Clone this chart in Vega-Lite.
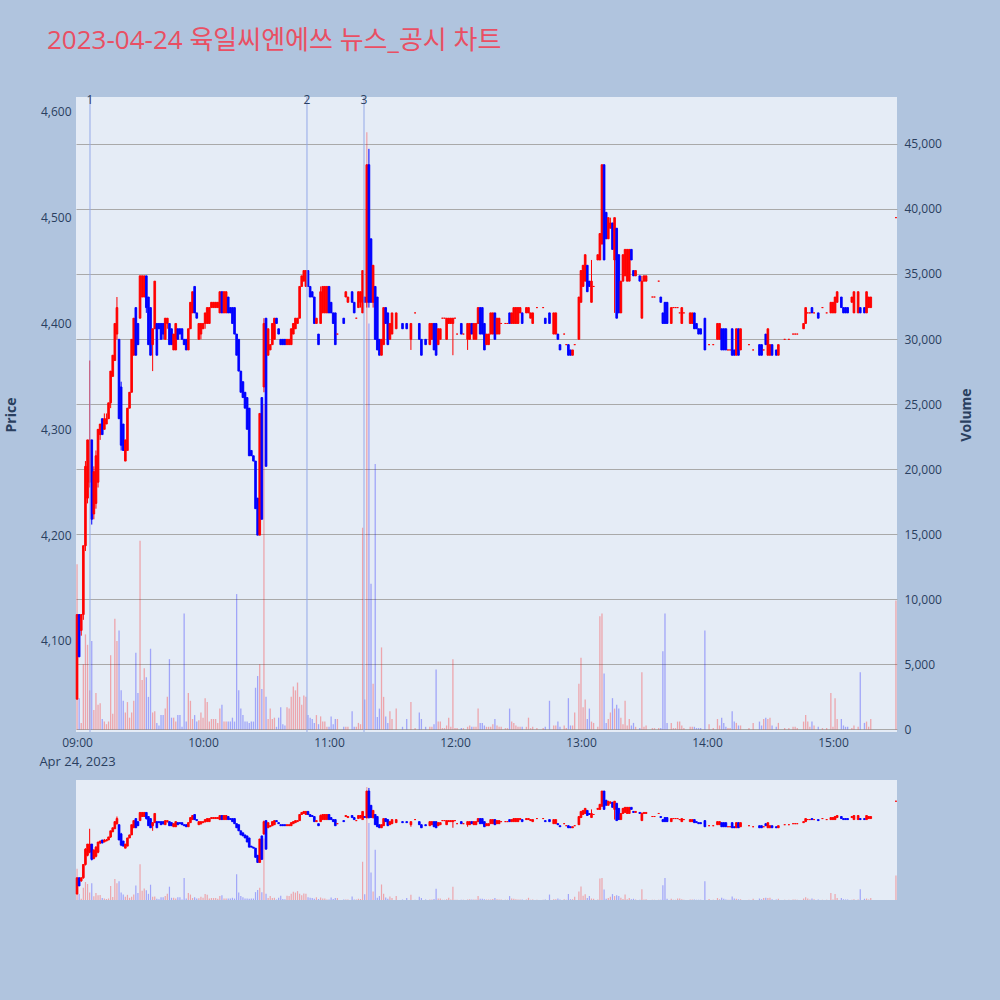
{
  "$schema": "https://vega.github.io/schema/vega-lite/v6.json",
  "background": "#b0c4de",
  "padding": {"left": 4, "top": 28, "right": 26, "bottom": 100},
  "title": {
    "text": "2023-04-24 육일씨엔에쓰 뉴스_공시 차트",
    "anchor": "start",
    "frame": "group",
    "dx": -29,
    "offset": 40,
    "fontSize": 26,
    "fontWeight": "normal",
    "font": "'Open Sans', 'Noto Sans CJK KR'",
    "color": "#e94f63"
  },
  "data": {
    "format": {"parse": {"t": "date:'%H:%M'"}},
    "values": [
      {"t":"09:00","o":4045,"h":4125,"l":4045,"c":4125,"v":12700},
      {"t":"09:01","o":4125,"h":4125,"l":4085,"c":4085,"v":2400},
      {"t":"09:02","o":4110,"h":4125,"l":4105,"c":4125,"v":500},
      {"t":"09:03","o":4125,"h":4190,"l":4120,"c":4190,"v":5000},
      {"t":"09:04","o":4190,"h":4270,"l":4185,"c":4265,"v":7300},
      {"t":"09:05","o":4235,"h":4290,"l":4230,"c":4290,"v":6500},
      {"t":"09:06","o":4250,"h":4365,"l":4245,"c":4290,"v":3000},
      {"t":"09:07","o":4290,"h":4290,"l":4210,"c":4215,"v":6800},
      {"t":"09:08","o":4220,"h":4265,"l":4215,"c":4260,"v":1500},
      {"t":"09:09","o":4230,"h":4280,"l":4225,"c":4275,"v":2800},
      {"t":"09:10","o":4250,"h":4300,"l":4245,"c":4300,"v":1900},
      {"t":"09:11","o":4295,"h":4305,"l":4290,"c":4305,"v":2000},
      {"t":"09:12","o":4310,"h":4310,"l":4295,"c":4295,"v":800},
      {"t":"09:13","o":4300,"h":4315,"l":4300,"c":4310,"v":600},
      {"t":"09:14","o":4305,"h":4315,"l":4305,"c":4310,"v":400},
      {"t":"09:15","o":4310,"h":4325,"l":4310,"c":4325,"v":600},
      {"t":"09:16","o":4325,"h":4355,"l":4320,"c":4355,"v":5700},
      {"t":"09:17","o":4350,"h":4370,"l":4350,"c":4370,"v":1200},
      {"t":"09:18","o":4365,"h":4400,"l":4365,"c":4400,"v":8500},
      {"t":"09:19","o":4390,"h":4425,"l":4385,"c":4415,"v":6800},
      {"t":"09:20","o":4385,"h":4385,"l":4310,"c":4310,"v":7600},
      {"t":"09:21","o":4340,"h":4345,"l":4280,"c":4285,"v":3000},
      {"t":"09:22","o":4305,"h":4305,"l":4280,"c":4280,"v":2200},
      {"t":"09:23","o":4270,"h":4290,"l":4270,"c":4290,"v":1300},
      {"t":"09:24","o":4280,"h":4320,"l":4280,"c":4320,"v":2100},
      {"t":"09:25","o":4320,"h":4335,"l":4320,"c":4335,"v":900},
      {"t":"09:26","o":4335,"h":4385,"l":4335,"c":4385,"v":1300},
      {"t":"09:27","o":4370,"h":4405,"l":4370,"c":4405,"v":2200},
      {"t":"09:28","o":4415,"h":4415,"l":4370,"c":4370,"v":5900},
      {"t":"09:29","o":4400,"h":4400,"l":4380,"c":4380,"v":2800},
      {"t":"09:30","o":4405,"h":4445,"l":4405,"c":4445,"v":14500},
      {"t":"09:31","o":4425,"h":4445,"l":4425,"c":4445,"v":3800},
      {"t":"09:32","o":4425,"h":4445,"l":4425,"c":4445,"v":4700},
      {"t":"09:33","o":4445,"h":4445,"l":4410,"c":4415,"v":4000},
      {"t":"09:34","o":4425,"h":4425,"l":4380,"c":4380,"v":2500},
      {"t":"09:35","o":4415,"h":4415,"l":4370,"c":4370,"v":6200},
      {"t":"09:36","o":4380,"h":4395,"l":4355,"c":4395,"v":1300},
      {"t":"09:37","o":4395,"h":4440,"l":4395,"c":4440,"v":1400},
      {"t":"09:38","o":4400,"h":4400,"l":4370,"c":4370,"v":500},
      {"t":"09:39","o":4400,"h":4400,"l":4395,"c":4395,"v":300},
      {"t":"09:40","o":4400,"h":4400,"l":4385,"c":4385,"v":1100},
      {"t":"09:41","o":4400,"h":4400,"l":4385,"c":4390,"v":1100},
      {"t":"09:42","o":4385,"h":4405,"l":4385,"c":4405,"v":1600},
      {"t":"09:43","o":4400,"h":4405,"l":4395,"c":4405,"v":2500},
      {"t":"09:44","o":4400,"h":4400,"l":4380,"c":4380,"v":5400},
      {"t":"09:45","o":4395,"h":4395,"l":4380,"c":4380,"v":900},
      {"t":"09:46","o":4375,"h":4390,"l":4375,"c":4390,"v":900},
      {"t":"09:47","o":4375,"h":4400,"l":4375,"c":4400,"v":600},
      {"t":"09:48","o":4395,"h":4395,"l":4385,"c":4385,"v":1100},
      {"t":"09:49","o":4395,"h":4395,"l":4390,"c":4390,"v":1100},
      {"t":"09:50","o":4395,"h":4395,"l":4385,"c":4385,"v":200},
      {"t":"09:51","o":4385,"h":4385,"l":4380,"c":4380,"v":8900},
      {"t":"09:52","o":4385,"h":4385,"l":4375,"c":4375,"v":600},
      {"t":"09:53","o":4375,"h":4395,"l":4375,"c":4395,"v":2800},
      {"t":"09:54","o":4395,"h":4420,"l":4395,"c":4420,"v":2200},
      {"t":"09:55","o":4410,"h":4430,"l":4410,"c":4430,"v":800},
      {"t":"09:56","o":4435,"h":4435,"l":4410,"c":4410,"v":1100},
      {"t":"09:57","o":4410,"h":4410,"l":4405,"c":4405,"v":600},
      {"t":"09:58","o":4385,"h":4400,"l":4385,"c":4400,"v":700},
      {"t":"09:59","o":4390,"h":4400,"l":4385,"c":4400,"v":1300},
      {"t":"10:00","o":4395,"h":4400,"l":4395,"c":4400,"v":900},
      {"t":"10:01","o":4400,"h":4410,"l":4395,"c":4410,"v":2400},
      {"t":"10:02","o":4400,"h":4415,"l":4400,"c":4415,"v":2100},
      {"t":"10:03","o":4400,"h":4415,"l":4400,"c":4415,"v":600},
      {"t":"10:04","o":4415,"h":4420,"l":4415,"c":4420,"v":800},
      {"t":"10:05","o":4415,"h":4420,"l":4415,"c":4420,"v":800},
      {"t":"10:06","o":4415,"h":4420,"l":4415,"c":4420,"v":800},
      {"t":"10:07","o":4415,"h":4420,"l":4415,"c":4420,"v":500},
      {"t":"10:08","o":4410,"h":4430,"l":4410,"c":4430,"v":1600},
      {"t":"10:09","o":4430,"h":4430,"l":4410,"c":4410,"v":1900},
      {"t":"10:10","o":4410,"h":4430,"l":4410,"c":4430,"v":600},
      {"t":"10:11","o":4410,"h":4430,"l":4410,"c":4430,"v":600},
      {"t":"10:12","o":4425,"h":4425,"l":4410,"c":4410,"v":600},
      {"t":"10:13","o":4415,"h":4415,"l":4410,"c":4410,"v":600},
      {"t":"10:14","o":4415,"h":4415,"l":4400,"c":4400,"v":900},
      {"t":"10:15","o":4415,"h":4415,"l":4390,"c":4390,"v":600},
      {"t":"10:16","o":4390,"h":4390,"l":4370,"c":4370,"v":10400},
      {"t":"10:17","o":4385,"h":4385,"l":4355,"c":4355,"v":3000},
      {"t":"10:18","o":4355,"h":4355,"l":4335,"c":4335,"v":1600},
      {"t":"10:19","o":4345,"h":4345,"l":4330,"c":4330,"v":1100},
      {"t":"10:20","o":4335,"h":4335,"l":4320,"c":4320,"v":600},
      {"t":"10:21","o":4330,"h":4330,"l":4300,"c":4300,"v":600},
      {"t":"10:22","o":4320,"h":4320,"l":4275,"c":4275,"v":500},
      {"t":"10:23","o":4280,"h":4280,"l":4275,"c":4275,"v":600},
      {"t":"10:24","o":4275,"h":4275,"l":4270,"c":4270,"v":600},
      {"t":"10:25","o":4270,"h":4270,"l":4225,"c":4225,"v":3200},
      {"t":"10:26","o":4235,"h":4235,"l":4200,"c":4200,"v":4100},
      {"t":"10:27","o":4200,"h":4315,"l":4200,"c":4315,"v":5000},
      {"t":"10:28","o":4330,"h":4330,"l":4215,"c":4215,"v":3100},
      {"t":"10:29","o":4340,"h":4405,"l":4335,"c":4400,"v":25000},
      {"t":"10:30","o":4405,"h":4405,"l":4265,"c":4265,"v":2500},
      {"t":"10:31","o":4370,"h":4395,"l":4370,"c":4395,"v":800},
      {"t":"10:32","o":4375,"h":4380,"l":4375,"c":4380,"v":1600},
      {"t":"10:33","o":4380,"h":4400,"l":4380,"c":4400,"v":800},
      {"t":"10:34","o":4385,"h":4405,"l":4385,"c":4405,"v":900},
      {"t":"10:35","o":4405,"h":4405,"l":4400,"c":4400,"v":200},
      {"t":"10:36","o":4395,"h":4395,"l":4390,"c":4390,"v":900},
      {"t":"10:37","o":4385,"h":4385,"l":4380,"c":4380,"v":1700},
      {"t":"10:38","o":4385,"h":4385,"l":4380,"c":4380,"v":400},
      {"t":"10:39","o":4385,"h":4385,"l":4380,"c":4380,"v":300},
      {"t":"10:40","o":4380,"h":4385,"l":4380,"c":4385,"v":1700},
      {"t":"10:41","o":4380,"h":4385,"l":4380,"c":4385,"v":1600},
      {"t":"10:42","o":4380,"h":4395,"l":4380,"c":4395,"v":2500},
      {"t":"10:43","o":4390,"h":4400,"l":4390,"c":4400,"v":3300},
      {"t":"10:44","o":4395,"h":4405,"l":4395,"c":4405,"v":3000},
      {"t":"10:45","o":4400,"h":4405,"l":4400,"c":4405,"v":3600},
      {"t":"10:46","o":4405,"h":4435,"l":4405,"c":4435,"v":2500},
      {"t":"10:47","o":4435,"h":4445,"l":4435,"c":4445,"v":1900},
      {"t":"10:48","o":4440,"h":4450,"l":4440,"c":4450,"v":2600},
      {"t":"10:49","o":4435,"h":4450,"l":4435,"c":4450,"v":2500},
      {"t":"10:50","o":4450,"h":4450,"l":4435,"c":4435,"v":1100},
      {"t":"10:51","o":4435,"h":4435,"l":4425,"c":4425,"v":900},
      {"t":"10:52","o":4430,"h":4430,"l":4425,"c":4425,"v":800},
      {"t":"10:53","o":4425,"h":4425,"l":4400,"c":4400,"v":500},
      {"t":"10:54","o":4400,"h":4405,"l":4400,"c":4405,"v":1100},
      {"t":"10:55","o":4390,"h":4390,"l":4380,"c":4380,"v":400},
      {"t":"10:56","o":4400,"h":4435,"l":4400,"c":4430,"v":1000},
      {"t":"10:57","o":4410,"h":4435,"l":4410,"c":4435,"v":600},
      {"t":"10:58","o":4410,"h":4435,"l":4410,"c":4435,"v":600},
      {"t":"10:59","o":4410,"h":4435,"l":4410,"c":4435,"v":200},
      {"t":"11:00","o":4435,"h":4435,"l":4410,"c":4410,"v":200},
      {"t":"11:01","o":4420,"h":4420,"l":4410,"c":4410,"v":1000},
      {"t":"11:02","o":4410,"h":4410,"l":4400,"c":4400,"v":400},
      {"t":"11:03","o":4410,"h":4410,"l":4380,"c":4380,"v":800},
      {"t":"11:04","o":4390,"h":4390,"l":4390,"c":4390,"v":800},
      {"t":"11:07","o":4405,"h":4405,"l":4400,"c":4400,"v":200},
      {"t":"11:08","o":4425,"h":4430,"l":4425,"c":4430,"v":200},
      {"t":"11:09","o":4420,"h":4425,"l":4420,"c":4425,"v":200},
      {"t":"11:11","o":4430,"h":4430,"l":4420,"c":4420,"v":1400},
      {"t":"11:12","o":4420,"h":4420,"l":4410,"c":4410,"v":200},
      {"t":"11:13","o":4405,"h":4405,"l":4405,"c":4405,"v":200},
      {"t":"11:14","o":4415,"h":4430,"l":4415,"c":4430,"v":500},
      {"t":"11:15","o":4420,"h":4430,"l":4415,"c":4430,"v":400},
      {"t":"11:16","o":4410,"h":4450,"l":4410,"c":4450,"v":15500},
      {"t":"11:17","o":4425,"h":4425,"l":4420,"c":4420,"v":2300},
      {"t":"11:18","o":4420,"h":4550,"l":4415,"c":4550,"v":45900},
      {"t":"11:19","o":4550,"h":4565,"l":4415,"c":4420,"v":31200},
      {"t":"11:20","o":4480,"h":4480,"l":4420,"c":4420,"v":11200},
      {"t":"11:21","o":4420,"h":4455,"l":4415,"c":4455,"v":3500},
      {"t":"11:22","o":4435,"h":4435,"l":4385,"c":4385,"v":20400},
      {"t":"11:23","o":4425,"h":4425,"l":4375,"c":4375,"v":950},
      {"t":"11:24","o":4385,"h":4385,"l":4370,"c":4370,"v":1600},
      {"t":"11:25","o":4370,"h":4385,"l":4370,"c":4385,"v":6300},
      {"t":"11:26","o":4380,"h":4415,"l":4380,"c":4415,"v":2500},
      {"t":"11:27","o":4415,"h":4415,"l":4400,"c":4400,"v":1000},
      {"t":"11:28","o":4410,"h":4410,"l":4380,"c":4380,"v":500},
      {"t":"11:29","o":4385,"h":4400,"l":4385,"c":4400,"v":1400},
      {"t":"11:30","o":4390,"h":4410,"l":4390,"c":4410,"v":800},
      {"t":"11:32","o":4395,"h":4410,"l":4395,"c":4410,"v":1600},
      {"t":"11:35","o":4400,"h":4400,"l":4395,"c":4395,"v":200},
      {"t":"11:37","o":4400,"h":4400,"l":4395,"c":4395,"v":800},
      {"t":"11:39","o":4385,"h":4400,"l":4375,"c":4400,"v":2100},
      {"t":"11:41","o":4410,"h":4410,"l":4410,"c":4410,"v":100},
      {"t":"11:43","o":4400,"h":4400,"l":4385,"c":4385,"v":1300},
      {"t":"11:44","o":4385,"h":4385,"l":4370,"c":4370,"v":800},
      {"t":"11:46","o":4385,"h":4385,"l":4380,"c":4380,"v":200},
      {"t":"11:48","o":4380,"h":4400,"l":4380,"c":4400,"v":200},
      {"t":"11:49","o":4385,"h":4400,"l":4385,"c":4400,"v":200},
      {"t":"11:50","o":4400,"h":4400,"l":4375,"c":4375,"v":400},
      {"t":"11:51","o":4400,"h":4400,"l":4370,"c":4370,"v":4600},
      {"t":"11:52","o":4380,"h":4395,"l":4380,"c":4395,"v":600},
      {"t":"11:53","o":4385,"h":4395,"l":4385,"c":4395,"v":600},
      {"t":"11:54","o":4405,"h":4405,"l":4405,"c":4405,"v":100},
      {"t":"11:55","o":4405,"h":4405,"l":4405,"c":4405,"v":100},
      {"t":"11:56","o":4385,"h":4405,"l":4385,"c":4405,"v":300},
      {"t":"11:57","o":4400,"h":4405,"l":4400,"c":4405,"v":900},
      {"t":"11:58","o":4400,"h":4405,"l":4400,"c":4405,"v":200},
      {"t":"11:59","o":4400,"h":4405,"l":4370,"c":4405,"v":5400},
      {"t":"12:00","o":4405,"h":4405,"l":4405,"c":4405,"v":100},
      {"t":"12:01","o":4390,"h":4390,"l":4390,"c":4390,"v":100},
      {"t":"12:03","o":4400,"h":4400,"l":4390,"c":4390,"v":100},
      {"t":"12:04","o":4390,"h":4390,"l":4390,"c":4390,"v":100},
      {"t":"12:06","o":4385,"h":4400,"l":4375,"c":4400,"v":200},
      {"t":"12:07","o":4385,"h":4400,"l":4385,"c":4400,"v":300},
      {"t":"12:08","o":4400,"h":4400,"l":4390,"c":4390,"v":200},
      {"t":"12:09","o":4385,"h":4400,"l":4385,"c":4400,"v":200},
      {"t":"12:10","o":4385,"h":4400,"l":4385,"c":4400,"v":200},
      {"t":"12:11","o":4400,"h":4415,"l":4400,"c":4415,"v":1600},
      {"t":"12:12","o":4415,"h":4415,"l":4390,"c":4390,"v":500},
      {"t":"12:13","o":4415,"h":4415,"l":4390,"c":4390,"v":500},
      {"t":"12:14","o":4400,"h":4400,"l":4375,"c":4375,"v":300},
      {"t":"12:15","o":4380,"h":4390,"l":4380,"c":4390,"v":200},
      {"t":"12:16","o":4380,"h":4390,"l":4380,"c":4390,"v":200},
      {"t":"12:17","o":4390,"h":4410,"l":4390,"c":4410,"v":200},
      {"t":"12:18","o":4390,"h":4410,"l":4390,"c":4410,"v":400},
      {"t":"12:19","o":4410,"h":4410,"l":4385,"c":4385,"v":800},
      {"t":"12:20","o":4390,"h":4405,"l":4390,"c":4405,"v":300},
      {"t":"12:21","o":4390,"h":4405,"l":4390,"c":4405,"v":200},
      {"t":"12:22","o":4400,"h":4400,"l":4400,"c":4400,"v":200},
      {"t":"12:24","o":4400,"h":4400,"l":4400,"c":4400,"v":100},
      {"t":"12:25","o":4400,"h":4400,"l":4400,"c":4400,"v":100},
      {"t":"12:26","o":4410,"h":4410,"l":4400,"c":4400,"v":1600},
      {"t":"12:27","o":4400,"h":4410,"l":4400,"c":4410,"v":600},
      {"t":"12:28","o":4400,"h":4415,"l":4400,"c":4415,"v":500},
      {"t":"12:29","o":4400,"h":4415,"l":4400,"c":4415,"v":300},
      {"t":"12:30","o":4400,"h":4415,"l":4400,"c":4415,"v":200},
      {"t":"12:31","o":4410,"h":4415,"l":4410,"c":4415,"v":200},
      {"t":"12:32","o":4410,"h":4410,"l":4400,"c":4400,"v":200},
      {"t":"12:34","o":4410,"h":4415,"l":4410,"c":4415,"v":200},
      {"t":"12:35","o":4410,"h":4415,"l":4410,"c":4415,"v":900},
      {"t":"12:36","o":4405,"h":4410,"l":4405,"c":4410,"v":100},
      {"t":"12:37","o":4400,"h":4410,"l":4400,"c":4410,"v":200},
      {"t":"12:39","o":4415,"h":4415,"l":4415,"c":4415,"v":100},
      {"t":"12:42","o":4415,"h":4415,"l":4415,"c":4415,"v":100},
      {"t":"12:43","o":4405,"h":4405,"l":4400,"c":4400,"v":200},
      {"t":"12:45","o":4410,"h":4410,"l":4400,"c":4400,"v":2200},
      {"t":"12:47","o":4390,"h":4410,"l":4390,"c":4410,"v":300},
      {"t":"12:48","o":4390,"h":4410,"l":4390,"c":4410,"v":300},
      {"t":"12:49","o":4390,"h":4390,"l":4385,"c":4385,"v":600},
      {"t":"12:50","o":4380,"h":4380,"l":4375,"c":4375,"v":200},
      {"t":"12:52","o":4390,"h":4390,"l":4390,"c":4390,"v":300},
      {"t":"12:53","o":4380,"h":4380,"l":4380,"c":4380,"v":100},
      {"t":"12:54","o":4380,"h":4380,"l":4370,"c":4370,"v":2400},
      {"t":"12:55","o":4375,"h":4375,"l":4370,"c":4370,"v":300},
      {"t":"12:56","o":4370,"h":4375,"l":4370,"c":4375,"v":300},
      {"t":"12:57","o":4380,"h":4380,"l":4380,"c":4380,"v":1300},
      {"t":"12:59","o":4385,"h":4425,"l":4385,"c":4425,"v":3500},
      {"t":"13:00","o":4420,"h":4450,"l":4420,"c":4450,"v":5500},
      {"t":"13:01","o":4435,"h":4455,"l":4435,"c":4455,"v":1700},
      {"t":"13:02","o":4440,"h":4465,"l":4440,"c":4465,"v":2300},
      {"t":"13:03","o":4455,"h":4455,"l":4430,"c":4430,"v":800},
      {"t":"13:04","o":4440,"h":4440,"l":4435,"c":4435,"v":1600},
      {"t":"13:05","o":4420,"h":4460,"l":4420,"c":4440,"v":600},
      {"t":"13:06","o":4435,"h":4435,"l":4435,"c":4435,"v":500},
      {"t":"13:08","o":4460,"h":4465,"l":4460,"c":4465,"v":200},
      {"t":"13:09","o":4460,"h":4485,"l":4460,"c":4485,"v":8700},
      {"t":"13:10","o":4475,"h":4550,"l":4475,"c":4550,"v":8900},
      {"t":"13:11","o":4550,"h":4550,"l":4460,"c":4460,"v":4300},
      {"t":"13:12","o":4505,"h":4505,"l":4480,"c":4480,"v":500},
      {"t":"13:13","o":4480,"h":4500,"l":4480,"c":4500,"v":800},
      {"t":"13:14","o":4490,"h":4500,"l":4490,"c":4495,"v":1300},
      {"t":"13:15","o":4495,"h":4495,"l":4470,"c":4470,"v":2400},
      {"t":"13:16","o":4460,"h":4500,"l":4410,"c":4500,"v":1600},
      {"t":"13:17","o":4490,"h":4490,"l":4405,"c":4405,"v":1900},
      {"t":"13:18","o":4465,"h":4465,"l":4410,"c":4410,"v":1600},
      {"t":"13:19","o":4410,"h":4440,"l":4410,"c":4440,"v":900},
      {"t":"13:20","o":4440,"h":4465,"l":4440,"c":4465,"v":400},
      {"t":"13:21","o":4445,"h":4470,"l":4445,"c":4470,"v":2200},
      {"t":"13:22","o":4440,"h":4470,"l":4440,"c":4470,"v":300},
      {"t":"13:23","o":4440,"h":4470,"l":4440,"c":4470,"v":800},
      {"t":"13:24","o":4470,"h":4470,"l":4460,"c":4460,"v":300},
      {"t":"13:25","o":4450,"h":4450,"l":4445,"c":4445,"v":500},
      {"t":"13:26","o":4445,"h":4450,"l":4445,"c":4450,"v":200},
      {"t":"13:28","o":4445,"h":4445,"l":4440,"c":4440,"v":100},
      {"t":"13:29","o":4405,"h":4445,"l":4405,"c":4440,"v":4400},
      {"t":"13:30","o":4440,"h":4445,"l":4440,"c":4445,"v":200},
      {"t":"13:31","o":4440,"h":4445,"l":4440,"c":4445,"v":300},
      {"t":"13:34","o":4425,"h":4425,"l":4425,"c":4425,"v":100},
      {"t":"13:35","o":4425,"h":4425,"l":4425,"c":4425,"v":100},
      {"t":"13:37","o":4440,"h":4440,"l":4440,"c":4440,"v":100},
      {"t":"13:38","o":4425,"h":4425,"l":4420,"c":4420,"v":100},
      {"t":"13:39","o":4410,"h":4410,"l":4400,"c":4400,"v":6000},
      {"t":"13:40","o":4420,"h":4420,"l":4400,"c":4400,"v":8900},
      {"t":"13:41","o":4420,"h":4420,"l":4400,"c":4400,"v":500},
      {"t":"13:43","o":4400,"h":4415,"l":4400,"c":4415,"v":500},
      {"t":"13:44","o":4415,"h":4415,"l":4415,"c":4415,"v":100},
      {"t":"13:45","o":4415,"h":4415,"l":4415,"c":4415,"v":100},
      {"t":"13:46","o":4415,"h":4415,"l":4415,"c":4415,"v":600},
      {"t":"13:47","o":4410,"h":4410,"l":4410,"c":4410,"v":600},
      {"t":"13:48","o":4400,"h":4415,"l":4400,"c":4415,"v":300},
      {"t":"13:49","o":4410,"h":4410,"l":4410,"c":4410,"v":100},
      {"t":"13:52","o":4400,"h":4410,"l":4400,"c":4410,"v":200},
      {"t":"13:53","o":4400,"h":4410,"l":4400,"c":4410,"v":200},
      {"t":"13:54","o":4410,"h":4410,"l":4395,"c":4395,"v":200},
      {"t":"13:55","o":4400,"h":4400,"l":4395,"c":4395,"v":100},
      {"t":"13:56","o":4395,"h":4395,"l":4390,"c":4390,"v":100},
      {"t":"13:57","o":4395,"h":4395,"l":4390,"c":4390,"v":100},
      {"t":"13:59","o":4405,"h":4405,"l":4375,"c":4375,"v":7600},
      {"t":"14:01","o":4380,"h":4380,"l":4380,"c":4380,"v":400},
      {"t":"14:03","o":4380,"h":4380,"l":4380,"c":4380,"v":100},
      {"t":"14:05","o":4385,"h":4400,"l":4385,"c":4400,"v":800},
      {"t":"14:06","o":4385,"h":4400,"l":4385,"c":4400,"v":300},
      {"t":"14:07","o":4395,"h":4395,"l":4375,"c":4375,"v":900},
      {"t":"14:08","o":4395,"h":4395,"l":4375,"c":4375,"v":500},
      {"t":"14:09","o":4395,"h":4395,"l":4375,"c":4375,"v":200},
      {"t":"14:10","o":4375,"h":4375,"l":4375,"c":4375,"v":100},
      {"t":"14:11","o":4375,"h":4375,"l":4375,"c":4375,"v":100},
      {"t":"14:12","o":4395,"h":4395,"l":4370,"c":4370,"v":1400},
      {"t":"14:13","o":4375,"h":4375,"l":4370,"c":4370,"v":600},
      {"t":"14:14","o":4370,"h":4395,"l":4370,"c":4395,"v":500},
      {"t":"14:15","o":4395,"h":4395,"l":4370,"c":4370,"v":300},
      {"t":"14:16","o":4375,"h":4395,"l":4375,"c":4395,"v":300},
      {"t":"14:20","o":4380,"h":4380,"l":4380,"c":4380,"v":100},
      {"t":"14:22","o":4375,"h":4375,"l":4375,"c":4375,"v":500},
      {"t":"14:25","o":4380,"h":4380,"l":4370,"c":4370,"v":600},
      {"t":"14:26","o":4380,"h":4380,"l":4370,"c":4370,"v":300},
      {"t":"14:27","o":4375,"h":4375,"l":4375,"c":4375,"v":800},
      {"t":"14:28","o":4390,"h":4390,"l":4380,"c":4380,"v":900},
      {"t":"14:29","o":4370,"h":4395,"l":4370,"c":4395,"v":800},
      {"t":"14:30","o":4370,"h":4380,"l":4370,"c":4380,"v":900},
      {"t":"14:31","o":4380,"h":4380,"l":4370,"c":4370,"v":300},
      {"t":"14:33","o":4375,"h":4375,"l":4370,"c":4370,"v":200},
      {"t":"14:34","o":4370,"h":4380,"l":4370,"c":4380,"v":500},
      {"t":"14:37","o":4385,"h":4385,"l":4385,"c":4385,"v":100},
      {"t":"14:39","o":4385,"h":4385,"l":4385,"c":4385,"v":100},
      {"t":"14:41","o":4390,"h":4390,"l":4390,"c":4390,"v":200},
      {"t":"14:42","o":4390,"h":4390,"l":4390,"c":4390,"v":200},
      {"t":"14:43","o":4390,"h":4390,"l":4390,"c":4390,"v":100},
      {"t":"14:46","o":4395,"h":4400,"l":4395,"c":4400,"v":600},
      {"t":"14:47","o":4400,"h":4415,"l":4400,"c":4415,"v":1100},
      {"t":"14:48","o":4410,"h":4410,"l":4410,"c":4410,"v":600},
      {"t":"14:49","o":4410,"h":4410,"l":4410,"c":4410,"v":200},
      {"t":"14:50","o":4415,"h":4415,"l":4410,"c":4410,"v":600},
      {"t":"14:51","o":4410,"h":4410,"l":4410,"c":4410,"v":300},
      {"t":"14:53","o":4410,"h":4410,"l":4405,"c":4405,"v":200},
      {"t":"14:55","o":4415,"h":4415,"l":4415,"c":4415,"v":100},
      {"t":"14:57","o":4410,"h":4410,"l":4410,"c":4410,"v":100},
      {"t":"14:59","o":4410,"h":4420,"l":4410,"c":4420,"v":2800},
      {"t":"15:00","o":4410,"h":4420,"l":4410,"c":4420,"v":200},
      {"t":"15:01","o":4410,"h":4425,"l":4410,"c":4425,"v":2400},
      {"t":"15:02","o":4420,"h":4430,"l":4420,"c":4430,"v":800},
      {"t":"15:04","o":4425,"h":4425,"l":4415,"c":4415,"v":800},
      {"t":"15:05","o":4415,"h":4415,"l":4410,"c":4410,"v":300},
      {"t":"15:06","o":4415,"h":4415,"l":4410,"c":4410,"v":200},
      {"t":"15:07","o":4415,"h":4415,"l":4410,"c":4410,"v":200},
      {"t":"15:09","o":4420,"h":4425,"l":4420,"c":4425,"v":100},
      {"t":"15:10","o":4410,"h":4430,"l":4410,"c":4430,"v":300},
      {"t":"15:12","o":4410,"h":4430,"l":4410,"c":4430,"v":200},
      {"t":"15:13","o":4415,"h":4415,"l":4410,"c":4410,"v":4400},
      {"t":"15:15","o":4415,"h":4415,"l":4410,"c":4410,"v":500},
      {"t":"15:16","o":4410,"h":4430,"l":4410,"c":4430,"v":600},
      {"t":"15:17","o":4415,"h":4425,"l":4415,"c":4425,"v":200},
      {"t":"15:18","o":4415,"h":4425,"l":4415,"c":4425,"v":800},
      {"t":"15:30","o":4500,"h":4500,"l":4500,"c":4500,"v":9900}
    ]
  },
  "vconcat": [
    {
      "width": 821,
      "height": 635,
      "layer": [
        {
          "mark": {"type": "bar", "size": 1.3, "opacity": 0.3},
          "encoding": {
            "x": {
              "field": "t",
              "type": "temporal",
              "scale": {"nice": false, "padding": 0, "domain": [
                {"year": 1900, "month": 1, "date": 1, "hours": 8, "minutes": 59, "seconds": 30},
                {"year": 1900, "month": 1, "date": 1, "hours": 15, "minutes": 30, "seconds": 30}
              ]},
              "axis": {
                "title": "Apr 24, 2023",
                "titleFontWeight": "normal",
                "titleFontSize": 13,
                "titleAlign": "center",
                "titleAnchor": "start",
                "titleX": 1,
                "titleY": 23,
                "grid": false,
                "format": "%H:%M",
                "tickCount": 7,
                "labelPadding": 5
              }
            },
            "y": {
              "field": "v",
              "type": "quantitative",
              "scale": {"domain": [-200, 48600], "nice": false, "zero": false},
              "axis": {
                "orient": "right",
                "title": "Volume",
                "titleAngle": 270,
                "values": [0, 5000, 10000, 15000, 20000, 25000, 30000, 35000, 40000, 45000],
                "format": ",d",
                "gridColor": "#a9a9a9",
                "gridWidth": 1,
                "labelPadding": 7,
                "titlePadding": 32,
                "titleFontWeight": "bold",
                "titleFontSize": 14
              }
            },
            "y2": {"datum": 0},
            "color": {"condition": {"test": "datum.c < datum.o", "value": "#0000ff"}, "value": "#ff0000"}
          }
        },
        {
          "layer": [
            {
              "mark": {"type": "rule", "strokeWidth": 1},
              "encoding": {
                "x": {"field": "t", "type": "temporal"},
                "y": {
                  "field": "l",
                  "type": "quantitative",
                  "scale": {"domain": [4014, 4614], "nice": false, "zero": false},
                  "axis": {
                    "orient": "left",
                    "title": "Price",
                    "values": [4100, 4200, 4300, 4400, 4500, 4600],
                    "format": ",d",
                    "gridColor": "#ffffff",
                    "gridWidth": 1,
                    "labelPadding": 5,
                    "titlePadding": 22,
                    "titleFontWeight": "bold",
                    "titleFontSize": 14
                  }
                },
                "y2": {"field": "h"},
                "color": {"condition": {"test": "datum.c < datum.o", "value": "#0000ff"}, "value": "#ff0000"}
              }
            },
            {
              "mark": {"type": "bar", "size": 1.7, "strokeWidth": 0.9, "opacity": 1},
              "encoding": {
                "x": {"field": "t", "type": "temporal"},
                "y": {"field": "o", "type": "quantitative"},
                "y2": {"field": "c"},
                "color": {"condition": {"test": "datum.c < datum.o", "value": "#0000ff"}, "value": "#ff0000"},
                "stroke": {"condition": {"test": "datum.c < datum.o", "value": "#0000ff"}, "value": "#ff0000"}
              }
            },
            {
              "data": {
                "format": {"parse": {"t": "date:'%H:%M:%S'"}},
                "values": [
                  {"t": "09:06:10", "n": "1"},
                  {"t": "10:49:30", "n": "2"},
                  {"t": "11:16:40", "n": "3"}
                ]
              },
              "layer": [
                {
                  "mark": {"type": "rule", "color": "#94a9e8", "strokeWidth": 1},
                  "encoding": {"x": {"field": "t", "type": "temporal"}}
                },
                {
                  "mark": {"type": "text", "fontSize": 12, "color": "#2a3f5f", "baseline": "middle", "dy": 3, "font": "Open Sans"},
                  "encoding": {
                    "x": {"field": "t", "type": "temporal"},
                    "y": {"datum": 4614, "type": "quantitative"},
                    "text": {"field": "n"}
                  }
                }
              ]
            }
          ]
        }
      ],
      "resolve": {"scale": {"y": "independent"}}
    },
    {
      "width": 821,
      "height": 120,
      "layer": [
        {
          "mark": {"type": "bar", "size": 1.2, "opacity": 0.3},
          "encoding": {
            "x": {
              "field": "t",
              "type": "temporal",
              "scale": {"nice": false, "padding": 0, "domain": [
                {"year": 1900, "month": 1, "date": 1, "hours": 8, "minutes": 59, "seconds": 30},
                {"year": 1900, "month": 1, "date": 1, "hours": 15, "minutes": 30, "seconds": 30}
              ]},
              "axis": null
            },
            "y": {"field": "v", "type": "quantitative", "scale": {"domain": [0, 48700], "nice": false}, "axis": null},
            "y2": {"datum": 0},
            "color": {"condition": {"test": "datum.c < datum.o", "value": "#0000ff"}, "value": "#ff0000"}
          }
        },
        {
          "layer": [
            {
              "mark": {"type": "rule", "strokeWidth": 1},
              "encoding": {
                "x": {"field": "t", "type": "temporal"},
                "y": {"field": "l", "type": "quantitative", "scale": {"domain": [4016, 4604], "nice": false, "zero": false}, "axis": null},
                "y2": {"field": "h"},
                "color": {"condition": {"test": "datum.c < datum.o", "value": "#0000ff"}, "value": "#ff0000"}
              }
            },
            {
              "mark": {"type": "bar", "size": 1.7, "strokeWidth": 0.9, "opacity": 1},
              "encoding": {
                "x": {"field": "t", "type": "temporal"},
                "y": {"field": "o", "type": "quantitative"},
                "y2": {"field": "c"},
                "color": {"condition": {"test": "datum.c < datum.o", "value": "#0000ff"}, "value": "#ff0000"},
                "stroke": {"condition": {"test": "datum.c < datum.o", "value": "#0000ff"}, "value": "#ff0000"}
              }
            }
          ]
        }
      ],
      "resolve": {"scale": {"y": "independent"}}
    }
  ],
  "spacing": 12,
  "resolve": {"scale": {"x": "independent", "y": "independent"}},
  "config": {
    "view": {"fill": "#e5ecf6", "stroke": null},
    "font": "Open Sans",
    "axis": {
      "labelFont": "Open Sans",
      "labelFontSize": 12,
      "labelColor": "#2a3f5f",
      "titleFont": "Open Sans",
      "titleColor": "#2a3f5f",
      "domain": false,
      "ticks": false
    }
  }
}
